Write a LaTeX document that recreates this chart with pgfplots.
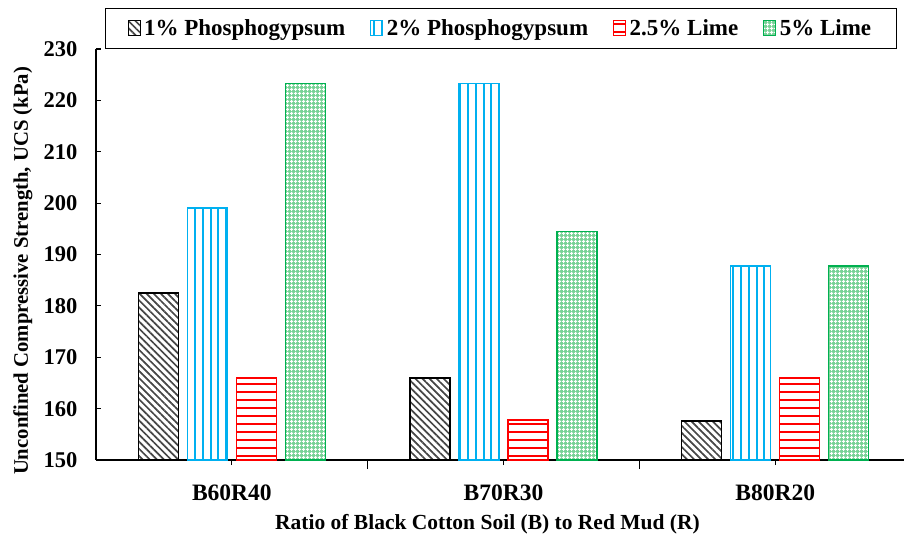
\documentclass[border=0pt]{standalone}
\usepackage{fontspec}
\setmainfont{Liberation Serif}
\usepackage{pgfplots}
\pgfplotsset{compat=1.18}
\usetikzlibrary{patterns.meta}
\definecolor{pblue}{RGB}{0,176,240}
\definecolor{pred}{RGB}{255,0,0}
\definecolor{pgreen}{RGB}{0,176,80}
\definecolor{pgreenl}{RGB}{120,210,150}
\definecolor{pgray}{RGB}{70,70,70}
\begin{document}
\begin{tikzpicture}
\begin{axis}[name=ax,
  scale only axis, width=808pt, height=411pt,
  xmin=-0.5, xmax=2.474, ymin=150, ymax=230,
  ytick={150,160,...,230},
  axis x line*=bottom, axis y line*=left,
  axis line style={line width=1.8pt},
  tick align=inside, major tick length=5pt,
  tick style={line width=1.2pt, black},
  xtick={0,1,2}, xticklabels={B60R40,B70R30,B80R20},
  extra x ticks={0.5,1.5}, extra x tick labels={},
  extra x tick style={major tick length=9pt},
  /pgf/number format/assume math mode=true,
  yticklabel style={inner sep=0pt, xshift=-18.5pt, font=\fontsize{22.5}{26}\selectfont\bfseries},
  xticklabel style={inner sep=0pt, yshift=-19.5pt, font=\fontsize{23.5}{27}\selectfont\bfseries},
  ylabel={Unconfined Compressive Strength, UCS (kPa)},
  xlabel={Ratio of Black Cotton Soil (B) to Red Mud (R)},
  xlabel style={font=\fontsize{21.5}{25}\selectfont\bfseries, at={(axis description cs:0.4845,0)}, anchor=base, yshift=-69pt},
  ylabel style={font=\fontsize{20.7}{24}\selectfont\bfseries, at={(axis description cs:-0.0842,0.46)}, anchor=base},
  ybar, bar width=40pt,
  legend columns=4,
  legend style={at={(axis description cs:0.0112,1)}, anchor=south west,
    draw=black, line width=1pt, inner xsep=22pt, inner ysep=8pt,
    font=\fontsize{23}{27}\selectfont\bfseries,
    nodes={inner sep=3.5pt},
    /tikz/every even column/.append style={column sep=21.5pt}},
  legend image code/.code={\draw[#1, line width=1pt] (0pt,-7pt) rectangle (12pt,8pt);},
]
\addplot[bar shift=-73.5pt, draw=black, line width=1.5pt,
  pattern={Lines[angle=-45, distance=5pt, line width=1.7pt]}, pattern color=pgray]
  coordinates {(0,182.5) (1,166.0) (2,157.6)};
\addlegendentry{1\% Phosphogypsum}
\addplot[bar shift=-24.5pt, draw=pblue, line width=1.5pt,
  pattern={Lines[angle=90, distance=7.8pt, line width=2pt]}, pattern color=pblue]
  coordinates {(0,199.1) (1,223.3) (2,187.8)};
\addlegendentry{2\% Phosphogypsum}
\addplot[bar shift=24.5pt, draw=pred, line width=1.5pt,
  pattern={Lines[angle=0, distance=8pt, line width=2pt]}, pattern color=pred]
  coordinates {(0,166.0) (1,157.8) (2,166.0)};
\addlegendentry{2.5\% Lime}
\addplot[bar shift=73.5pt, draw=pgreen, line width=1.5pt, fill=pgreenl,
  postaction={pattern={Hatch[angle=0, distance=4pt, line width=1.2pt]}, pattern color=white}]
  coordinates {(0,223.3) (1,194.5) (2,187.8)};
\addlegendentry{5\% Lime}
\end{axis}
\pgfresetboundingbox
\path (ax.south west) ++(-96pt,-76pt) rectangle ++(904pt,536pt);
\end{tikzpicture}
\end{document}
